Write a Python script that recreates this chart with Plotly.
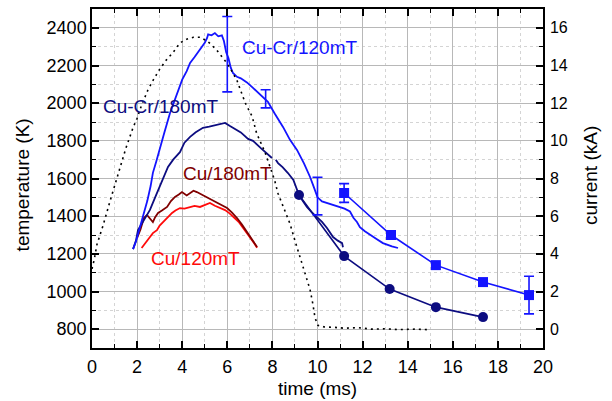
import plotly.graph_objects as go

# ---- data ----
# Cu-Cr / 120 mT continuous temperature (time ms, K)
cucr120_t = [1.82, 1.95, 2.1, 2.26, 2.45, 2.6, 2.7, 2.85, 3.0, 3.2, 3.46, 3.65, 3.81, 4.0, 4.2, 4.35,
             4.55, 4.79, 4.9, 5.0, 5.1, 5.15, 5.3, 5.45, 5.6, 5.76, 5.85, 5.95, 6.05, 6.15, 6.25, 6.43,
             6.6, 6.87, 7.14, 7.4, 7.8, 8.1, 8.47, 8.78, 9.09, 9.4, 9.67, 9.85, 10.0, 10.2, 10.42, 10.7,
             11.0, 11.2, 11.44, 11.6, 11.75, 11.88, 12.1, 12.33, 12.6, 12.9, 13.1, 13.3, 13.57]
cucr120_T = [1225, 1265, 1330, 1395, 1480, 1560, 1630, 1690, 1750, 1840, 1948, 2010, 2070, 2125, 2170, 2214,
             2245, 2283, 2300, 2320, 2345, 2365, 2360, 2372, 2355, 2360, 2330, 2270, 2240, 2190, 2160, 2140,
             2132, 2110, 2081, 2050, 2007, 1945, 1874, 1805, 1752, 1680, 1608, 1550, 1500, 1478, 1470, 1460,
             1449, 1440, 1425, 1390, 1369, 1342, 1320, 1300, 1280, 1257, 1247, 1240, 1231]

# Cu-Cr / 180 mT continuous temperature (None = gap)
cucr180_t = [1.82, 1.95, 2.04, 2.3, 2.57, 2.8, 3.0, 3.2, 3.37, 3.6, 3.9, 4.1, 4.35, 4.6, 4.92, 5.2, 5.54,
             5.75, 5.9, 6.1, 6.25, 6.43, 6.6, 6.92, 7.14, 7.5, 7.9, 7.98, None, 8.15, 8.25, 8.45, 8.69,
             8.93, 9.0, 9.18, 9.35, 9.53, 9.75, 9.98, 10.2, 10.42, 10.69, 10.9, 11.09, 11.13]
cucr180_T = [1225, 1270, 1326, 1380, 1433, 1500, 1560, 1610, 1661, 1700, 1740, 1790, 1821, 1845, 1869, 1875, 1884,
             1890, 1895, 1880, 1870, 1858, 1845, 1810, 1800, 1760, 1714, 1709, None, 1700, 1682, 1660, 1629,
             1592, 1566, 1512, 1480, 1449, 1420, 1396, 1370, 1337, 1289, 1270, 1257, 1235]

# Cu / 180 mT
cu180_t = [2.0, 2.15, 2.3, 2.44, 2.55, 2.7, 2.8, 2.93, 3.1, 3.33, 3.5, 3.68, 3.85, 3.99, 4.2, 4.35, 4.5,
           4.65, 4.85, 5.1, 5.3, 5.54, 5.75, 5.99, 6.2, 6.43, 6.65, 6.87, 7.1, 7.32]
cu180_T = [1284, 1330, 1390, 1406, 1390, 1369, 1395, 1417, 1430, 1449, 1480, 1502, 1515, 1528, 1510, 1523, 1535,
           1528, 1515, 1502, 1490, 1470, 1460, 1443, 1420, 1390, 1355, 1316, 1275, 1236]

# Cu / 120 mT
cu120_t = [2.2, 2.4, 2.57, 2.7, 2.88, 3.0, 3.15, 3.35, 3.55, 3.7, 3.9, 4.1, 4.35, 4.55, 4.79, 5.0, 5.23,
           5.45, 5.68, 5.9, 6.1, 6.3, 6.5, 6.75, 7.0, 7.2, 7.32]
cu120_T = [1231, 1260, 1289, 1310, 1326, 1350, 1369, 1395, 1417, 1430, 1443, 1440, 1449, 1455, 1449, 1460, 1470,
           1455, 1443, 1432, 1415, 1395, 1370, 1330, 1290, 1255, 1232]

# Discrete points
sq_t = [11.18, 13.26, 15.25, 17.34, 19.38]
sq_T = [1523, 1300, 1140, 1050, 981]
ci_t = [9.18, 11.18, 13.2, 15.25, 17.34]
ci_T = [1512, 1188, 1013, 917, 864]

# Error bars (Cu-Cr/120mT)
err_t = [6.0, 7.7, 10.0, 11.18, 19.38]
err_T = [2260, 2023, 1507, 1523, 981]
err_v = [200, 48, 100, 50, 100]

# Current (kA)
cur_t = [0.0, 0.1, 0.22, 0.49, 0.8, 1.0, 1.24, 1.5, 1.82, 2.0, 2.2, 2.48, 2.75, 3.0, 3.3, 3.6, 3.9, 4.2,
         4.5, 4.8, 5.1, 5.3, 5.54, 5.8, 6.0, 6.2, 6.43, 6.8, 7.1, 7.3, 7.5, 7.67, 7.9, 8.1, 8.25, 8.5,
         8.78, 9.0, 9.22, 9.45, 9.67, 9.8, 9.89, 10.02, 10.3, 10.7, 11.2, 11.8, 12.4, 13.0, 13.6, 14.3, 15.0]
cur_I = [3.2, 3.7, 4.5, 5.5, 6.8, 7.6, 8.6, 9.6, 10.7, 11.2, 11.9, 12.7, 13.3, 13.8, 14.3, 14.7, 15.2, 15.4,
         15.5, 15.5, 15.3, 15.1, 14.8, 14.4, 14.1, 13.7, 13.2, 12.0, 11.3, 10.4, 9.9, 9.4, 8.6, 7.9, 7.2, 6.4,
         5.6, 4.7, 3.8, 3.0, 2.1, 1.3, 0.6, 0.2, 0.12, 0.1, 0.05, 0.08, 0.0, 0.02, -0.02, 0.0, -0.03]

labels = [("Cu-Cr/120mT", 9.18, 2294, "#1414ff"),
          ("Cu-Cr/180mT", 3.02, 1980, "#0c0c80"),
          ("Cu/180mT", 6.0, 1629, "#800000"),
          ("Cu/120mT", 4.6, 1177, "#ff0a0a")]

BLUE = "#1414ff"
NAVY = "#0c0c80"
DRED = "#800000"
RED = "#ff0a0a"
FONT = "Liberation Sans, Arial"

fig = go.Figure()

fig.add_trace(go.Scatter(x=cur_t, y=cur_I, yaxis="y2", mode="lines",
                         line=dict(color="black", width=1.6, dash="2px,4px"), hoverinfo="skip"))
fig.add_trace(go.Scatter(x=cu120_t, y=cu120_T, mode="lines", line=dict(color=RED, width=1.8)))
fig.add_trace(go.Scatter(x=cu180_t, y=cu180_T, mode="lines", line=dict(color=DRED, width=1.8)))
fig.add_trace(go.Scatter(x=cucr180_t, y=cucr180_T, mode="lines", line=dict(color=NAVY, width=1.8),
                         connectgaps=False))
fig.add_trace(go.Scatter(x=cucr120_t, y=cucr120_T, mode="lines", line=dict(color=BLUE, width=1.8)))
fig.add_trace(go.Scatter(x=ci_t, y=ci_T, mode="lines+markers", line=dict(color=NAVY, width=1.6),
                         marker=dict(symbol="circle", size=10, color=NAVY)))
fig.add_trace(go.Scatter(x=sq_t, y=sq_T, mode="lines+markers", line=dict(color=BLUE, width=1.6),
                         marker=dict(symbol="square", size=10, color=BLUE)))
fig.add_trace(go.Scatter(x=err_t, y=err_T, mode="markers",
                         marker=dict(size=2, color="rgba(0,0,0,0)"),
                         error_y=dict(type="data", array=err_v, visible=True, color=BLUE,
                                      thickness=1.6, width=5)))

for txt, x, y, c in labels:
    fig.add_annotation(x=x, y=y, text=txt, showarrow=False,
                       font=dict(family=FONT, size=19, color=c),
                       xanchor="center", yanchor="middle")

# axis titles as paper-positioned annotations
fig.add_annotation(xref="paper", yref="paper", x=0.5, y=-0.118, text="time (ms)", showarrow=False,
                   font=dict(family=FONT, size=19, color="black"), xanchor="center", yanchor="middle")
fig.add_annotation(xref="paper", yref="paper", x=-0.155, y=0.48, text="temperature (K)", showarrow=False,
                   textangle=-90, font=dict(family=FONT, size=19, color="black"),
                   xanchor="center", yanchor="middle")
fig.add_annotation(xref="paper", yref="paper", x=1.104, y=0.51, text="current (kA)", showarrow=False,
                   textangle=-90, font=dict(family=FONT, size=19, color="black"),
                   xanchor="center", yanchor="middle")

axis_common = dict(showline=True, linecolor="black", linewidth=1.5,
                   ticks="inside", ticklen=7, tickwidth=1.5, tickcolor="black",
                   tickfont=dict(family=FONT, size=18, color="black"),
                   zeroline=False, automargin=False)

fig.update_layout(
    width=612, height=401,
    margin=dict(l=92, r=69, t=9, b=53),
    paper_bgcolor="white", plot_bgcolor="white",
    showlegend=False,
    font=dict(family=FONT, color="black"),
    xaxis=dict(**axis_common, range=[0, 20], tick0=0, dtick=2, mirror="ticks",
               showgrid=True, gridcolor="#b8b8b8", gridwidth=1,
               ticklabelstandoff=2,
               minor=dict(dtick=1, ticks="inside", ticklen=4, tickwidth=1.2, tickcolor="black",
                          showgrid=True, gridcolor="#d4d4d4", griddash="dot", gridwidth=1)),
    yaxis=dict(**axis_common, range=[700, 2500], tick0=800, dtick=200, mirror=True,
               showgrid=True, gridcolor="#b8b8b8", gridwidth=1,
               ticklabelstandoff=0,
               minor=dict(dtick=100, ticks="inside", ticklen=4, tickwidth=1.2, tickcolor="black",
                          showgrid=True, gridcolor="#d4d4d4", griddash="dot", gridwidth=1)),
    yaxis2=dict(showline=True, linecolor="black", linewidth=1.5,
                ticks="inside", ticklen=7, tickwidth=1.5, tickcolor="black",
                tickfont=dict(family=FONT, size=16, color="black"),
                zeroline=False, automargin=False, overlaying="y", side="right",
                range=[-1, 17], tick0=0, dtick=2,
                showgrid=False, ticklabelstandoff=2,
                minor=dict(dtick=1, ticks="inside", ticklen=4, tickwidth=1.2, tickcolor="black",
                           showgrid=False)),
)

fig.write_html("out.html")
